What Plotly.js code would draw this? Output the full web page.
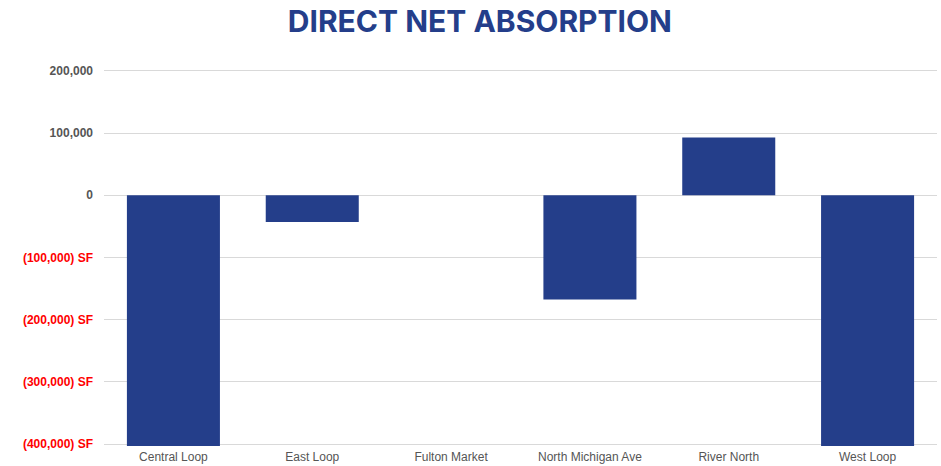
<!DOCTYPE html>
<html>
<head>
<meta charset="utf-8">
<script src="https://cdn.plot.ly/plotly-3.0.1.min.js"></script>
<style>
  html, body { margin: 0; padding: 0; background: #ffffff; }
  #chart { width: 941px; height: 466px; }
</style>
</head>
<body>
<div id="chart"></div>
<script>
// Data
const submarkets = ["Central Loop", "East Loop", "Fulton Market", "North Michigan Ave", "River North", "West Loop"];
const netAbsorption = [-460000, -42800, 0, -167500, 93000, -450000];
const tickValues = [200000, 100000, 0, -100000, -200000, -300000, -400000];
const tickLabels = ["200,000", "100,000", "0", "(100,000) SF", "(200,000) SF", "(300,000) SF", "(400,000) SF"];

const barColor = "#243e8a";
const styledTicks = tickValues.map((v, i) =>
  v < 0 ? '<span style="color:#ff0000">' + tickLabels[i] + '</span>' : tickLabels[i]);

const trace = {
  type: "bar",
  x: submarkets,
  y: netAbsorption,
  marker: { color: barColor },
  hoverinfo: "x+y"
};

const layout = {
  width: 941,
  height: 466,
  paper_bgcolor: "#ffffff",
  plot_bgcolor: "#ffffff",
  margin: { l: 104, r: 4, t: 69, b: 20 },
  showlegend: false,
  bargap: 0.33,
  title: {
    text: "<b>DIRECT NET ABSORPTION</b>",
    font: { family: "Inter, 'Open Sans', sans-serif", size: 30, color: barColor },
    x: 0.51, xanchor: "center", xref: "container",
    y: 0.953, yanchor: "middle", yref: "container"
  },
  xaxis: {
    type: "category",
    showgrid: false,
    zeroline: false,
    showline: false,
    ticks: "",
    ticklabelstandoff: 2,
    tickfont: { family: "'Liberation Sans', Arial, sans-serif", size: 12, color: "#555555" },
    fixedrange: true
  },
  yaxis: {
    range: [-403000, 203000],
    tickvals: tickValues,
    ticktext: styledTicks,
    showgrid: true,
    gridcolor: "#d9d9d9",
    gridwidth: 1,
    zeroline: false,
    showline: false,
    ticks: "",
    ticklabelstandoff: 10,
    tickfont: { family: "'Liberation Sans', Arial, sans-serif", size: 12, color: "#555555", weight: "bold" },
    fixedrange: true
  }
};

Plotly.newPlot("chart", [trace], layout, { displayModeBar: false, staticPlot: true });
</script>
</body>
</html>
